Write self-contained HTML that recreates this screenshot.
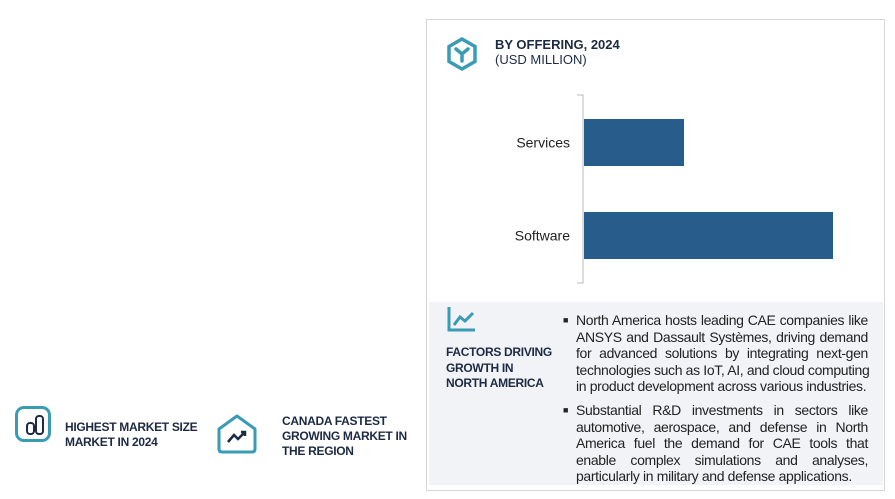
<!DOCTYPE html>
<html><head><meta charset="utf-8"><style>
body{margin:0;width:895px;height:499px;background:#fff;font-family:"Liberation Sans",sans-serif;position:relative;overflow:hidden}
.abs{position:absolute}
.b{font-weight:bold;color:#1d2a44}
.bul{font-size:14px;line-height:16.6px;color:#222;width:308px}
.bul .m{position:absolute;left:3px;top:0;font-size:9px}
.bul .t{margin-left:16px;width:292px}
.bul .t div{text-align:justify;text-align-last:justify;white-space:nowrap;letter-spacing:-0.35px}
.bul .t div.l{text-align-last:left}
</style></head><body>
<div class="abs" style="left:426px;top:19px;width:459px;height:472px;border:1px solid #d4d6da;box-sizing:border-box"></div>
<svg class="abs" style="left:444px;top:36px" width="36" height="36" viewBox="0 0 36 36"><polygon points="18,3 31,10.5 31,25.5 18,33 5,25.5 5,10.5" fill="none" stroke="#3a9bb5" stroke-width="3.5"/><path d="M12,13 L18,18 L24,13 M18,18 L18,25" fill="none" stroke="#3a9bb5" stroke-width="3.5" stroke-linecap="round"/></svg>
<div class="abs b" style="left:495px;top:37px;font-size:13px">BY OFFERING, 2024</div>
<div class="abs" style="left:495px;top:52px;font-size:13px;color:#1d2a44">(USD MILLION)</div>
<svg class="abs" id="chart" style="left:0;top:0" width="895" height="499"></svg>
<div class="abs" style="left:429px;top:302px;width:454px;height:183px;background:#f1f3f6"></div>
<svg class="abs" style="left:446px;top:305px" width="32" height="28"><path d="M3,2 V25 H29" fill="none" stroke="#3a9bb5" stroke-width="3"/><path d="M8,20 L14,12 L19,16 L27,8" fill="none" stroke="#3a9bb5" stroke-width="3"/></svg>
<div class="abs b" style="left:446px;top:345px;font-size:12px;line-height:15.5px;letter-spacing:-0.3px">FACTORS DRIVING<br>GROWTH IN<br>NORTH AMERICA</div>
<div class="abs bul" style="left:560px;top:312px"><span class="m">■</span><div class="t">
<div>North America hosts leading CAE companies like</div>
<div>ANSYS and Dassault Systèmes, driving demand</div>
<div>for advanced solutions by integrating next-gen</div>
<div>technologies such as IoT, AI, and cloud computing</div>
<div class="l">in product development across various industries.</div></div></div>
<div class="abs bul" style="left:560px;top:402px"><span class="m">■</span><div class="t">
<div>Substantial R&amp;D investments in sectors like</div>
<div>automotive, aerospace, and defense in North</div>
<div>America fuel the demand for CAE tools that</div>
<div>enable complex simulations and analyses,</div>
<div class="l">particularly in military and defense applications.</div></div></div>
<div class="abs" style="left:15px;top:406px;width:36px;height:36px;border:3px solid #3a9bb5;border-radius:9px;box-sizing:border-box"><div style="position:absolute;left:8px;top:13px;width:5px;height:9px;border:2px solid #1d2a44;border-radius:4px"></div><div style="position:absolute;left:17px;top:6px;width:5px;height:16px;border:2px solid #1d2a44;border-radius:4px"></div></div>
<div class="abs b" style="left:65px;top:420px;font-size:12px;line-height:15px;letter-spacing:-0.3px">HIGHEST MARKET SIZE<br>MARKET IN 2024</div>
<svg class="abs" style="left:216px;top:413px" width="42" height="42"><path d="M3,16 L21,3 L39,16 V36 Q39,39 36,39 H6 Q3,39 3,36 Z" fill="none" stroke="#3a9bb5" stroke-width="3" stroke-linejoin="round"/><path d="M12,29 L18,22 L22,26 L29,19 M25,19 H29 V23" fill="none" stroke="#1d2a44" stroke-width="2.5"/></svg>
<div class="abs b" style="left:282px;top:414px;font-size:12px;line-height:15px;letter-spacing:-0.3px">CANADA FASTEST<br>GROWING MARKET IN<br>THE REGION</div>
<script>
const categories=["Services","Software"];
const values=[1000,2490];
const svg=document.getElementById('chart');
const NS="http://www.w3.org/2000/svg";
const x0=584, scale=0.1, yStart=119, step=93, bh=47;
const xs=v=>x0+v*scale;
const ax=document.createElementNS(NS,'path');
ax.setAttribute('d','M577,95 H583 V283 H577');
ax.setAttribute('fill','none');ax.setAttribute('stroke','#bbb');


svg.appendChild(ax);
categories.forEach((c,i)=>{
 const y=yStart+i*step;
 const r=document.createElementNS(NS,'rect');
 r.setAttribute('x',x0);r.setAttribute('y',y);r.setAttribute('width',xs(values[i])-x0);r.setAttribute('height',bh);
 r.setAttribute('fill','#285c8a');
 
 
 svg.appendChild(r);
 const t=document.createElementNS(NS,'text');
 t.setAttribute('x',570);t.setAttribute('y',y+bh/2+5);t.setAttribute('text-anchor','end');
 t.setAttribute('font-size','14');t.setAttribute('fill','#222');t.setAttribute('font-family','Liberation Sans, sans-serif');
 t.textContent=c;
 
 
 svg.appendChild(t);
});
</script>
</body></html>
